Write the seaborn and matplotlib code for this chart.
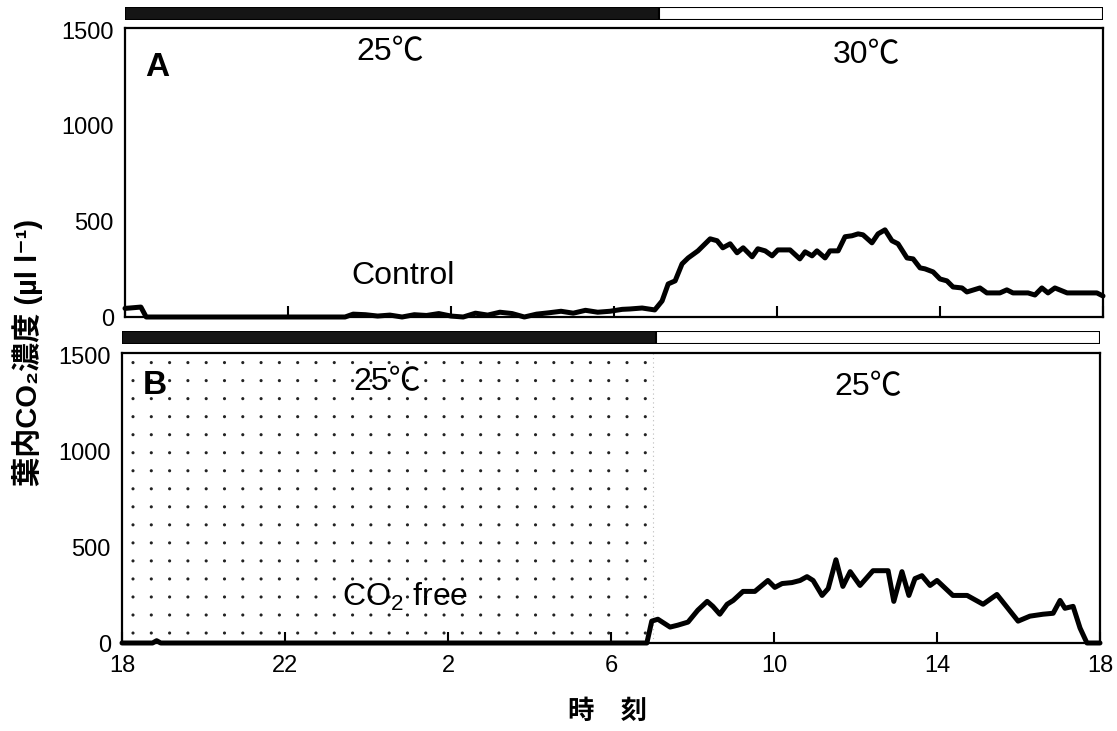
import numpy as np
import pandas as pd
import matplotlib
matplotlib.use("Agg")
import matplotlib.pyplot as plt
import seaborn as sns

# ---- data: hours after 18:00 and leaf internal CO2 (ul l-1) ----
ctrl_hours = [0.0, 0.12, 0.39, 0.52, 5.4, 5.6, 5.9, 6.2, 6.5, 6.8, 7.1, 7.4, 7.7, 8.0,
              8.3, 8.6, 8.9, 9.2, 9.5, 9.8, 10.1, 10.4, 10.7, 11.0, 11.3, 11.6, 11.9,
              12.2, 12.39, 12.69, 13.0, 13.18, 13.33, 13.5, 13.67, 13.82, 14.06, 14.36,
              14.53, 14.67, 14.85, 15.02, 15.17, 15.39, 15.53, 15.71, 15.88, 16.02,
              16.32, 16.56, 16.69, 16.86, 16.98, 17.18, 17.30, 17.50, 17.67, 17.84,
              17.99, 18.11, 18.33, 18.48, 18.65, 18.82, 18.97, 19.19, 19.34, 19.51,
              19.63, 19.83, 20.0, 20.17, 20.32, 20.54, 20.66, 20.98, 21.15, 21.47,
              21.64, 21.79, 22.16, 22.33, 22.5, 22.65, 22.82, 23.12, 23.85, 24.0]
ctrl_values = [45, 47, 52, 0, 0, 15, 12, 5, 10, 0, 12, 8, 18, 5,
               0, 20, 10, 25, 18, 0, 15, 22, 30, 20, 35, 25, 30,
               40, 42, 47, 37, 84, 173, 189, 278, 309, 346, 409,
               399, 362, 383, 336, 362, 315, 357, 346, 320, 351,
               351, 304, 341, 320, 346, 309, 346, 346, 420, 425,
               435, 430, 388, 435, 456, 399, 383, 309, 304, 257,
               252, 236, 199, 189, 157, 152, 131, 152, 126, 126,
               142, 126, 126, 115, 152, 126, 152, 126, 126, 110]

free_hours = [0.0, 0.75, 0.85, 0.95, 12.88, 13.0, 13.15, 13.45, 13.64, 13.89, 14.13,
              14.36, 14.5, 14.67, 14.85, 15.0, 15.24, 15.53, 15.85, 16.02, 16.2,
              16.44, 16.64, 16.81, 16.96, 17.18, 17.33, 17.52, 17.69, 17.87, 18.11,
              18.43, 18.8, 18.94, 19.14, 19.31, 19.46, 19.63, 19.83, 20.0, 20.39,
              20.74, 21.13, 21.47, 21.99, 22.28, 22.6, 22.85, 23.02, 23.14, 23.34,
              23.51, 23.68, 24.0]
free_values = [0, 0, 12, 0, 0, 114, 124, 83, 93, 109, 171,
               217, 191, 150, 202, 222, 269, 269, 326, 290, 310,
               315, 326, 346, 326, 248, 284, 434, 295, 372, 300,
               377, 377, 217, 372, 248, 336, 351, 300, 326, 248,
               248, 202, 253, 114, 140, 150, 155, 222, 181, 191,
               78, 0, 0]

tick_hours = [0, 4, 8, 12, 16, 20, 24]
tick_labels = ["18", "22", "2", "6", "10", "14", "18"]
y_ticks = [0, 500, 1000, 1500]
lights_on = 13.1          # dark period ends (~7:00)
dot_end = 12.9            # CO2-free air supplied during the night

sns.set_theme(style="ticks")
plt.rcParams["font.family"] = ["Liberation Sans", "Noto Sans CJK JP", "DejaVu Sans"]
plt.rcParams["mathtext.fontset"] = "custom"
plt.rcParams["mathtext.rm"] = "Liberation Sans"
plt.rcParams["mathtext.bf"] = "Liberation Sans:bold"
plt.rcParams["mathtext.it"] = "Liberation Sans:italic"
for key in ("text.color", "axes.labelcolor", "xtick.color", "ytick.color",
            "xtick.labelcolor", "ytick.labelcolor"):
    plt.rcParams[key] = "black"

W, H = 1117, 731
fig = plt.figure(figsize=(W / 100, H / 100), dpi=100)


def frac(x0, y0, x1, y1):
    return [x0 / W, 1 - y1 / H, (x1 - x0) / W, (y1 - y0) / H]


axA = fig.add_axes(frac(125, 28, 1103, 317))
barA = fig.add_axes(frac(125, 7, 1103, 20))
axB = fig.add_axes(frac(122, 353, 1100, 643))
barB = fig.add_axes(frac(122, 331, 1100, 344))

dfA = pd.DataFrame({"h": ctrl_hours, "v": ctrl_values})
dfB = pd.DataFrame({"h": free_hours, "v": free_values})

# dotted background for the CO2-free night period
gx, gy = np.meshgrid(np.arange(0.27, dot_end, 0.449), np.arange(52, 1500, 94))
dots = pd.DataFrame({"h": gx.ravel(), "v": gy.ravel()})
sns.scatterplot(data=dots, x="h", y="v", ax=axB, s=5, color="#222222",
                edgecolor="none", legend=False, zorder=1)
axB.axvline(dot_end + 0.12, color="#bbbbbb", lw=0.8, ls=(0, (1, 3)), zorder=1)

sns.lineplot(data=dfA, x="h", y="v", ax=axA, color="black", lw=3.6,
             estimator=None, sort=False, zorder=3, clip_on=False)
sns.lineplot(data=dfB, x="h", y="v", ax=axB, color="black", lw=3.6,
             estimator=None, sort=False, zorder=3, clip_on=False)

for ax in (axA, axB):
    ax.set_xlim(0, 24)
    ax.set_ylim(0, 1512)
    ax.set_xticks(tick_hours)
    ax.set_yticks(y_ticks)
    ax.set_yticklabels([str(t) for t in y_ticks], fontsize=17)
    ax.tick_params(axis="x", direction="in", length=8, width=1.5, pad=9,
                   labelsize=17, color="black")
    ax.tick_params(axis="y", length=0, pad=8)
    ax.set_xlabel("")
    ax.set_ylabel("")
    for sp in ax.spines.values():
        sp.set_visible(True)
        sp.set_color("black")
        sp.set_linewidth(1.6)
    ax.set_facecolor("white")

axA.set_xticklabels([])
axB.set_xticklabels(tick_labels)

# light/dark bars
for bar in (barA, barB):
    bar.barh([0], [lights_on], left=0, height=1, color="#151515", edgecolor="black", lw=1.5)
    bar.barh([0], [24 - lights_on], left=lights_on, height=1, color="white",
             edgecolor="black", lw=1.5)
    bar.set_xlim(0, 24)
    bar.set_ylim(-0.5, 0.5)
    bar.axis("off")

# panel annotations
axA.text(0.79, 1306, "A", fontsize=24, fontweight="bold", ha="center", va="center")
axA.text(6.5, 1385, "25℃", fontsize=23, ha="center", va="center")
axA.text(18.2, 1369, "30℃", fontsize=23, ha="center", va="center")
axA.text(6.82, 215, "Control", fontsize=23, ha="center", va="center")

axB.text(0.81, 1345, "B", fontsize=24, fontweight="bold", ha="center", va="center")
axB.text(6.5, 1360, "25℃", fontsize=23, ha="center", va="center")
axB.text(18.3, 1334, "25℃", fontsize=23, ha="center", va="center")
axB.text(6.95, 238, "CO$_2$ free", fontsize=23, ha="center", va="center")

fig.text(28 / W, 1 - 352 / H, "葉内CO₂濃度 (µl l⁻¹)",
         family=["Liberation Sans", "Noto Sans CJK JP", "DejaVu Sans"],
         rotation=90, fontsize=21, fontweight="bold", ha="center", va="center")
fig.text(608 / W, 1 - 712 / H, "時　刻", fontsize=19, fontweight="bold",
         ha="center", va="center")

fig.savefig("out.png", dpi=100, facecolor="white")
